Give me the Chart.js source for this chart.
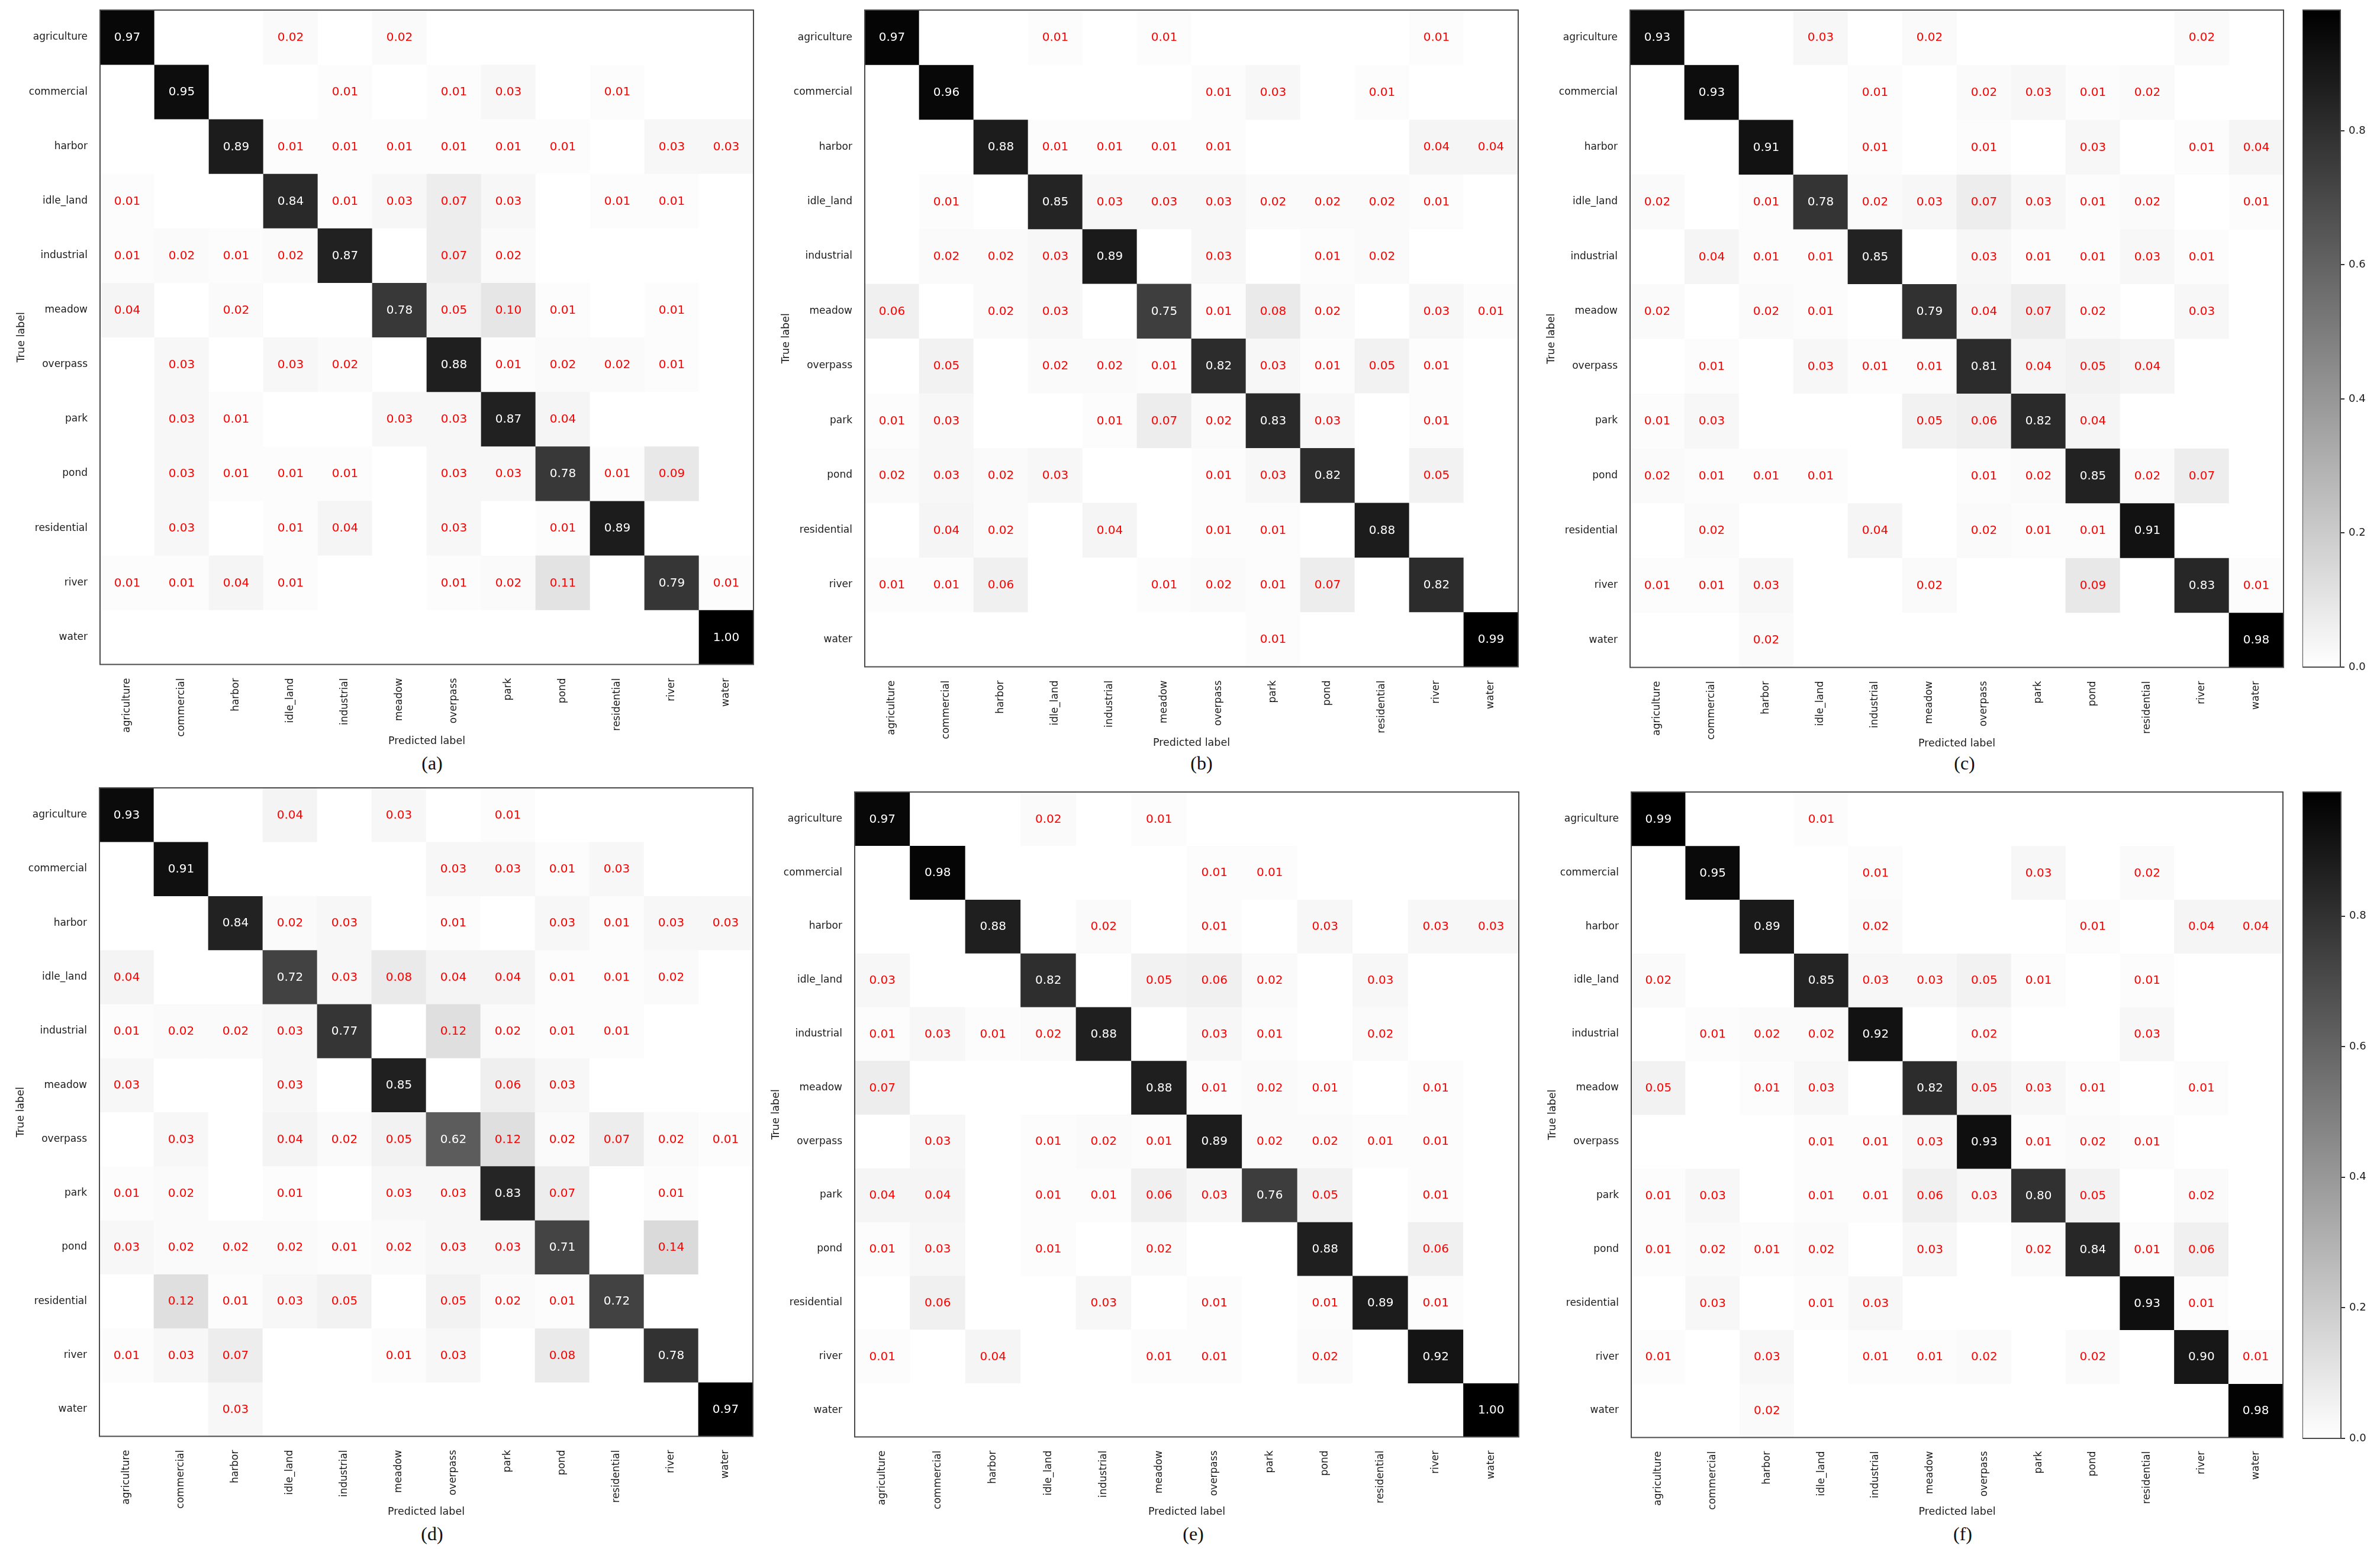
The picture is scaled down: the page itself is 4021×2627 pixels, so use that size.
<!DOCTYPE html>
<html>
<head>
<meta charset="utf-8">
<script src="https://cdn.jsdelivr.net/npm/chart.js@4.4.1/dist/chart.umd.min.js"></script>
<style>
  html, body { margin: 0; padding: 0; background: #fff; }
  body { width: 4021px; height: 2627px; position: relative; overflow: hidden; }
  canvas { position: absolute; }
  .tag { position: absolute; font-family: "Liberation Serif", serif; font-size: 32px; color: #111;
         transform: translate(-50%, -50%); }
</style>
</head>
<body>
<script>
// class names, used for both axes
const categories = ['agriculture', 'commercial', 'harbor', 'idle_land', 'industrial', 'meadow',
                    'overpass', 'park', 'pond', 'residential', 'river', 'water'];

// (a) rows = true label, columns = predicted label
const matrixA = [
  [0.97, 0, 0, 0.02, 0, 0.02, 0, 0, 0, 0, 0, 0],
  [0, 0.95, 0, 0, 0.01, 0, 0.01, 0.03, 0, 0.01, 0, 0],
  [0, 0, 0.89, 0.01, 0.01, 0.01, 0.01, 0.01, 0.01, 0, 0.03, 0.03],
  [0.01, 0, 0, 0.84, 0.01, 0.03, 0.07, 0.03, 0, 0.01, 0.01, 0],
  [0.01, 0.02, 0.01, 0.02, 0.87, 0, 0.07, 0.02, 0, 0, 0, 0],
  [0.04, 0, 0.02, 0, 0, 0.78, 0.05, 0.10, 0.01, 0, 0.01, 0],
  [0, 0.03, 0, 0.03, 0.02, 0, 0.88, 0.01, 0.02, 0.02, 0.01, 0],
  [0, 0.03, 0.01, 0, 0, 0.03, 0.03, 0.87, 0.04, 0, 0, 0],
  [0, 0.03, 0.01, 0.01, 0.01, 0, 0.03, 0.03, 0.78, 0.01, 0.09, 0],
  [0, 0.03, 0, 0.01, 0.04, 0, 0.03, 0, 0.01, 0.89, 0, 0],
  [0.01, 0.01, 0.04, 0.01, 0, 0, 0.01, 0.02, 0.11, 0, 0.79, 0.01],
  [0, 0, 0, 0, 0, 0, 0, 0, 0, 0, 0, 1.00]
];

// (b)
const matrixB = [
  [0.97, 0, 0, 0.01, 0, 0.01, 0, 0, 0, 0, 0.01, 0],
  [0, 0.96, 0, 0, 0, 0, 0.01, 0.03, 0, 0.01, 0, 0],
  [0, 0, 0.88, 0.01, 0.01, 0.01, 0.01, 0, 0, 0, 0.04, 0.04],
  [0, 0.01, 0, 0.85, 0.03, 0.03, 0.03, 0.02, 0.02, 0.02, 0.01, 0],
  [0, 0.02, 0.02, 0.03, 0.89, 0, 0.03, 0, 0.01, 0.02, 0, 0],
  [0.06, 0, 0.02, 0.03, 0, 0.75, 0.01, 0.08, 0.02, 0, 0.03, 0.01],
  [0, 0.05, 0, 0.02, 0.02, 0.01, 0.82, 0.03, 0.01, 0.05, 0.01, 0],
  [0.01, 0.03, 0, 0, 0.01, 0.07, 0.02, 0.83, 0.03, 0, 0.01, 0],
  [0.02, 0.03, 0.02, 0.03, 0, 0, 0.01, 0.03, 0.82, 0, 0.05, 0],
  [0, 0.04, 0.02, 0, 0.04, 0, 0.01, 0.01, 0, 0.88, 0, 0],
  [0.01, 0.01, 0.06, 0, 0, 0.01, 0.02, 0.01, 0.07, 0, 0.82, 0],
  [0, 0, 0, 0, 0, 0, 0, 0.01, 0, 0, 0, 0.99]
];

// (c)
const matrixC = [
  [0.93, 0, 0, 0.03, 0, 0.02, 0, 0, 0, 0, 0.02, 0],
  [0, 0.93, 0, 0, 0.01, 0, 0.02, 0.03, 0.01, 0.02, 0, 0],
  [0, 0, 0.91, 0, 0.01, 0, 0.01, 0, 0.03, 0, 0.01, 0.04],
  [0.02, 0, 0.01, 0.78, 0.02, 0.03, 0.07, 0.03, 0.01, 0.02, 0, 0.01],
  [0, 0.04, 0.01, 0.01, 0.85, 0, 0.03, 0.01, 0.01, 0.03, 0.01, 0],
  [0.02, 0, 0.02, 0.01, 0, 0.79, 0.04, 0.07, 0.02, 0, 0.03, 0],
  [0, 0.01, 0, 0.03, 0.01, 0.01, 0.81, 0.04, 0.05, 0.04, 0, 0],
  [0.01, 0.03, 0, 0, 0, 0.05, 0.06, 0.82, 0.04, 0, 0, 0],
  [0.02, 0.01, 0.01, 0.01, 0, 0, 0.01, 0.02, 0.85, 0.02, 0.07, 0],
  [0, 0.02, 0, 0, 0.04, 0, 0.02, 0.01, 0.01, 0.91, 0, 0],
  [0.01, 0.01, 0.03, 0, 0, 0.02, 0, 0, 0.09, 0, 0.83, 0.01],
  [0, 0, 0.02, 0, 0, 0, 0, 0, 0, 0, 0, 0.98]
];

// (d)
const matrixD = [
  [0.93, 0, 0, 0.04, 0, 0.03, 0, 0.01, 0, 0, 0, 0],
  [0, 0.91, 0, 0, 0, 0, 0.03, 0.03, 0.01, 0.03, 0, 0],
  [0, 0, 0.84, 0.02, 0.03, 0, 0.01, 0, 0.03, 0.01, 0.03, 0.03],
  [0.04, 0, 0, 0.72, 0.03, 0.08, 0.04, 0.04, 0.01, 0.01, 0.02, 0],
  [0.01, 0.02, 0.02, 0.03, 0.77, 0, 0.12, 0.02, 0.01, 0.01, 0, 0],
  [0.03, 0, 0, 0.03, 0, 0.85, 0, 0.06, 0.03, 0, 0, 0],
  [0, 0.03, 0, 0.04, 0.02, 0.05, 0.62, 0.12, 0.02, 0.07, 0.02, 0.01],
  [0.01, 0.02, 0, 0.01, 0, 0.03, 0.03, 0.83, 0.07, 0, 0.01, 0],
  [0.03, 0.02, 0.02, 0.02, 0.01, 0.02, 0.03, 0.03, 0.71, 0, 0.14, 0],
  [0, 0.12, 0.01, 0.03, 0.05, 0, 0.05, 0.02, 0.01, 0.72, 0, 0],
  [0.01, 0.03, 0.07, 0, 0, 0.01, 0.03, 0, 0.08, 0, 0.78, 0],
  [0, 0, 0.03, 0, 0, 0, 0, 0, 0, 0, 0, 0.97]
];

// (e)
const matrixE = [
  [0.97, 0, 0, 0.02, 0, 0.01, 0, 0, 0, 0, 0, 0],
  [0, 0.98, 0, 0, 0, 0, 0.01, 0.01, 0, 0, 0, 0],
  [0, 0, 0.88, 0, 0.02, 0, 0.01, 0, 0.03, 0, 0.03, 0.03],
  [0.03, 0, 0, 0.82, 0, 0.05, 0.06, 0.02, 0, 0.03, 0, 0],
  [0.01, 0.03, 0.01, 0.02, 0.88, 0, 0.03, 0.01, 0, 0.02, 0, 0],
  [0.07, 0, 0, 0, 0, 0.88, 0.01, 0.02, 0.01, 0, 0.01, 0],
  [0, 0.03, 0, 0.01, 0.02, 0.01, 0.89, 0.02, 0.02, 0.01, 0.01, 0],
  [0.04, 0.04, 0, 0.01, 0.01, 0.06, 0.03, 0.76, 0.05, 0, 0.01, 0],
  [0.01, 0.03, 0, 0.01, 0, 0.02, 0, 0, 0.88, 0, 0.06, 0],
  [0, 0.06, 0, 0, 0.03, 0, 0.01, 0, 0.01, 0.89, 0.01, 0],
  [0.01, 0, 0.04, 0, 0, 0.01, 0.01, 0, 0.02, 0, 0.92, 0],
  [0, 0, 0, 0, 0, 0, 0, 0, 0, 0, 0, 1.00]
];

// (f)
const matrixF = [
  [0.99, 0, 0, 0.01, 0, 0, 0, 0, 0, 0, 0, 0],
  [0, 0.95, 0, 0, 0.01, 0, 0, 0.03, 0, 0.02, 0, 0],
  [0, 0, 0.89, 0, 0.02, 0, 0, 0, 0.01, 0, 0.04, 0.04],
  [0.02, 0, 0, 0.85, 0.03, 0.03, 0.05, 0.01, 0, 0.01, 0, 0],
  [0, 0.01, 0.02, 0.02, 0.92, 0, 0.02, 0, 0, 0.03, 0, 0],
  [0.05, 0, 0.01, 0.03, 0, 0.82, 0.05, 0.03, 0.01, 0, 0.01, 0],
  [0, 0, 0, 0.01, 0.01, 0.03, 0.93, 0.01, 0.02, 0.01, 0, 0],
  [0.01, 0.03, 0, 0.01, 0.01, 0.06, 0.03, 0.80, 0.05, 0, 0.02, 0],
  [0.01, 0.02, 0.01, 0.02, 0, 0.03, 0, 0.02, 0.84, 0.01, 0.06, 0],
  [0, 0.03, 0, 0.01, 0.03, 0, 0, 0, 0, 0.93, 0.01, 0],
  [0.01, 0, 0.03, 0, 0.01, 0.01, 0.02, 0, 0.02, 0, 0.90, 0.01],
  [0, 0, 0.02, 0, 0, 0, 0, 0, 0, 0, 0, 0.98]
];

// where each panel sits on the page: plot box [left, top, right, bottom], caption centre
const panels = [
  { tag: 'a', matrix: matrixA, box: [169, 17, 1273, 1122], cap: [730, 1289], titleOff: 130 },
  { tag: 'b', matrix: matrixB, box: [1461, 17, 2565, 1126], cap: [2030, 1289], titleOff: 129 },
  { tag: 'c', matrix: matrixC, box: [2754, 17, 3858, 1127], cap: [3319, 1289], titleOff: 129,
    colorbar: [3890, 17, 3954, 1127] },
  { tag: 'd', matrix: matrixD, box: [168, 1331, 1272, 2426], cap: [730, 2591], titleOff: 128 },
  { tag: 'e', matrix: matrixE, box: [1444, 1338, 2566, 2427], cap: [2016, 2591], titleOff: 127 },
  { tag: 'f', matrix: matrixF, box: [2756, 1338, 3857, 2428], cap: [3316, 2591], titleOff: 126,
    colorbar: [3890, 1338, 3955, 2430] }
];

const tickFont = { family: '"DejaVu Sans"', size: 17 };
const titleFont = { family: '"DejaVu Sans"', size: 17.5 };
const inkColor = '#1a1a1a';

// gray_r colormap, 0 -> white, vmax -> black
function grey(v, vmax) {
  const g = Math.round(255 * (1 - Math.min(v / vmax, 1)));
  return `rgb(${g},${g},${g})`;
}

const frameBorder = {
  id: 'frameBorder',
  afterDraw(chart) {
    const { ctx, chartArea: a } = chart;
    ctx.save();
    ctx.strokeStyle = '#4a4a4a';
    ctx.lineWidth = 2;
    ctx.strokeRect(a.left, a.top, a.right - a.left, a.bottom - a.top);
    ctx.restore();
  }
};

// writes the value in the middle of each cell
function cellText(matrix, vmax) {
  return {
    id: 'cellText',
    afterDatasetsDraw(chart) {
      const ctx = chart.ctx;
      ctx.save();
      ctx.font = '20px "DejaVu Sans"';
      ctx.textAlign = 'center';
      ctx.textBaseline = 'middle';
      matrix.forEach((row, r) => {
        const bars = chart.getDatasetMeta(r).data;
        row.forEach((v, c) => {
          if (v <= 0) return;
          const p = bars[c].getCenterPoint();
          ctx.fillStyle = v > vmax / 2 ? '#ffffff' : '#ff0000';
          ctx.fillText(v.toFixed(2), p.x, p.y + 1);
        });
      });
      ctx.restore();
    }
  };
}

function addCanvas(left, top, w, h) {
  const cv = document.createElement('canvas');
  cv.width = w; cv.height = h;
  cv.style.left = left + 'px'; cv.style.top = top + 'px';
  cv.style.width = w + 'px'; cv.style.height = h + 'px';
  document.body.appendChild(cv);
  return cv;
}

function makePanel(p) {
  const vmax = Math.max(...p.matrix.flat());
  const [L, T, R, B] = p.box;
  // top padding has to cover half a tick label plus tick padding, or chart.js pushes the area down
  const padTop = 26, padRight = 20, yW = 143;
  const xH = p.titleOff + 10.5;
  const w = R - L + yW + padRight, h = Math.round(B - T + padTop + xH);
  const cv = addCanvas(L - yW, T - padTop, w, h);

  new Chart(cv, {
    type: 'bar',
    data: {
      labels: categories,
      datasets: p.matrix.map((row, r) => ({
        label: categories[r],
        data: row.map(() => [r, r + 1]),
        backgroundColor: row.map(v => grey(v, vmax)),
        borderWidth: 0,
        grouped: false,
        barPercentage: 1,
        categoryPercentage: 1
      }))
    },
    options: {
      responsive: false,
      animation: false,
      devicePixelRatio: 1,
      layout: { padding: { top: padTop, right: padRight, left: 0, bottom: 0 } },
      plugins: { legend: { display: false }, tooltip: { enabled: false } },
      scales: {
        x: {
          type: 'category',
          offset: true,
          grid: { display: false },
          border: { display: false },
          ticks: { minRotation: 90, maxRotation: 90, autoSkip: false, padding: 15, color: inkColor, font: tickFont },
          title: { display: true, text: 'Predicted label', color: inkColor, font: titleFont, padding: 0 },
          afterFit: s => { s.height = xH; }
        },
        y: {
          type: 'linear',
          min: 0,
          max: categories.length,
          reverse: true,
          grid: { display: false },
          border: { display: false },
          afterBuildTicks: s => { s.ticks = categories.map((_, i) => ({ value: i + 0.5 })); },
          ticks: { autoSkip: false, padding: 13, color: inkColor, font: tickFont,
                   callback: (v, i) => categories[i] },
          title: { display: true, text: 'True label', color: inkColor, font: titleFont, padding: 0 },
          afterFit: s => { s.width = yW; }
        }
      }
    },
    plugins: [cellText(p.matrix, vmax), frameBorder]
  });

  if (p.colorbar) makeColorbar(p.colorbar, vmax);

  const cap = document.createElement('div');
  cap.className = 'tag';
  cap.textContent = `(${p.tag})`;
  cap.style.left = p.cap[0] + 'px';
  cap.style.top = p.cap[1] + 'px';
  document.body.appendChild(cap);
}

function makeColorbar(box, vmax) {
  const [L, T, R, B] = box;
  const pad = 22, axW = 70;
  const cv = addCanvas(L, T - pad, R - L + axW, B - T + 2 * pad);

  new Chart(cv, {
    type: 'bar',
    data: {
      labels: [''],
      datasets: [{
        data: [[0, vmax]],
        backgroundColor: ctx => {
          const area = ctx.chart.chartArea;
          if (!area) return '#888';
          const g = ctx.chart.ctx.createLinearGradient(0, area.bottom, 0, area.top);
          g.addColorStop(0, '#ffffff');
          g.addColorStop(1, '#000000');
          return g;
        },
        borderWidth: 0,
        barPercentage: 1,
        categoryPercentage: 1
      }]
    },
    options: {
      responsive: false,
      animation: false,
      devicePixelRatio: 1,
      layout: { padding: { top: pad, bottom: pad, left: 0, right: 0 } },
      plugins: { legend: { display: false }, tooltip: { enabled: false } },
      scales: {
        x: { display: false },
        y: {
          position: 'right',
          min: 0,
          max: vmax,
          grid: { display: true, drawOnChartArea: false, drawTicks: true, tickLength: 7, color: '#333', lineWidth: 2 },
          border: { display: false },
          ticks: { stepSize: 0.2, includeBounds: false, padding: 7, color: inkColor,
                   font: { family: '"DejaVu Sans"', size: 18 }, callback: v => v.toFixed(1) },
          afterFit: s => { s.width = axW; }
        }
      }
    },
    plugins: [frameBorder]
  });
}

panels.forEach(makePanel);
</script>
</body>
</html>
